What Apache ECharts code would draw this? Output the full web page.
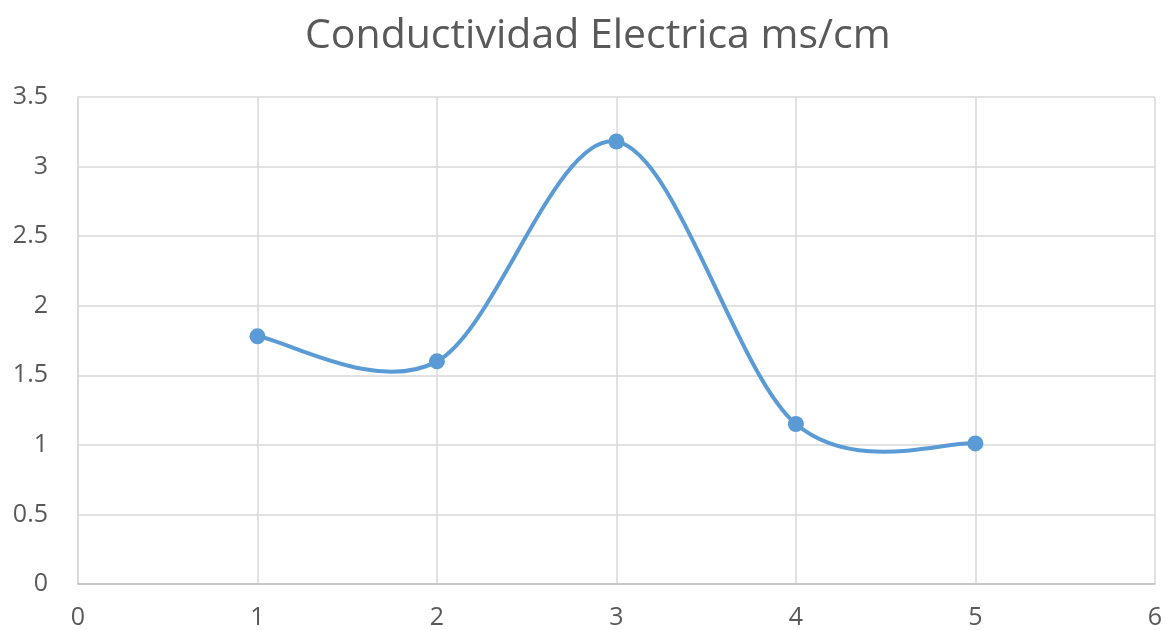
<!DOCTYPE html>
<html><head><meta charset="utf-8">
<script src="https://cdn.jsdelivr.net/npm/echarts@6/dist/echarts.min.js"></script>
<style>html,body{margin:0;padding:0;background:#fff}#c{width:1165px;height:630px}</style>
</head><body><div id="c"></div>
<script>
var titleText = 'Conductividad Electrica ms/cm';
var xValues = [1, 2, 3, 4, 5];
var yValues = [1.78, 1.60, 3.18, 1.15, 1.01];

var points = xValues.map(function (x, i) { return [x, yValues[i]]; });
var lineColor = '#5b9bd5';

// Excel-like smoothed line (Catmull-Rom -> Bezier), built from the axis scales
function renderSegment(params, api) {
  var i = params.dataIndex;
  var n = points.length;
  if (i >= n - 1) return null;
  var p = function (k) { k = Math.max(0, Math.min(n - 1, k)); return api.coord(points[k]); };
  var p0 = p(i - 1), p1 = p(i), p2 = p(i + 1), p3 = p(i + 2);
  var cp1 = [p1[0] + (p2[0] - p0[0]) / 6, p1[1] + (p2[1] - p0[1]) / 6];
  var cp2 = [p2[0] - (p3[0] - p1[0]) / 6, p2[1] - (p3[1] - p1[1]) / 6];
  return {
    type: 'bezierCurve',
    shape: { x1: p1[0], y1: p1[1], cpx1: cp1[0], cpy1: cp1[1], cpx2: cp2[0], cpy2: cp2[1], x2: p2[0], y2: p2[1] },
    style: { stroke: lineColor, lineWidth: 4, fill: null, lineCap: 'round' }
  };
}

var labelFont = { color: '#595959', fontSize: 25, fontFamily: 'Open Sans' };
var chart = echarts.init(document.getElementById('c'));
chart.setOption({
  animation: false,
  title: {
    text: titleText, left: 300, top: 11,
    textStyle: { fontFamily: 'Open Sans', fontWeight: 'normal', fontSize: 41, color: '#595959' }
  },
  grid: { left: 78, right: 9, top: 97, bottom: 45 },
  xAxis: {
    type: 'value', min: 0, max: 6, interval: 1,
    axisLine: { show: true, lineStyle: { color: '#bfbfbf', width: 1.5 } },
    axisTick: { show: false },
    axisLabel: Object.assign({ margin: 21 }, labelFont),
    splitLine: { show: true, lineStyle: { color: '#d9d9d9', width: 1.5 } }
  },
  yAxis: {
    type: 'value', min: 0, max: 3.5, interval: 0.5,
    axisLine: { show: true, lineStyle: { color: '#d9d9d9', width: 1.5 } },
    axisTick: { show: false },
    axisLabel: Object.assign({ margin: 30 }, labelFont),
    splitLine: { show: true, lineStyle: { color: '#d9d9d9', width: 1.5 } }
  },
  series: [{
    type: 'custom', data: points, renderItem: renderSegment, z: 2
  }, {
    type: 'scatter', data: points, symbol: 'circle', symbolSize: 16,
    itemStyle: { color: lineColor, opacity: 1 }, z: 3
  }]
});
</script></body></html>
